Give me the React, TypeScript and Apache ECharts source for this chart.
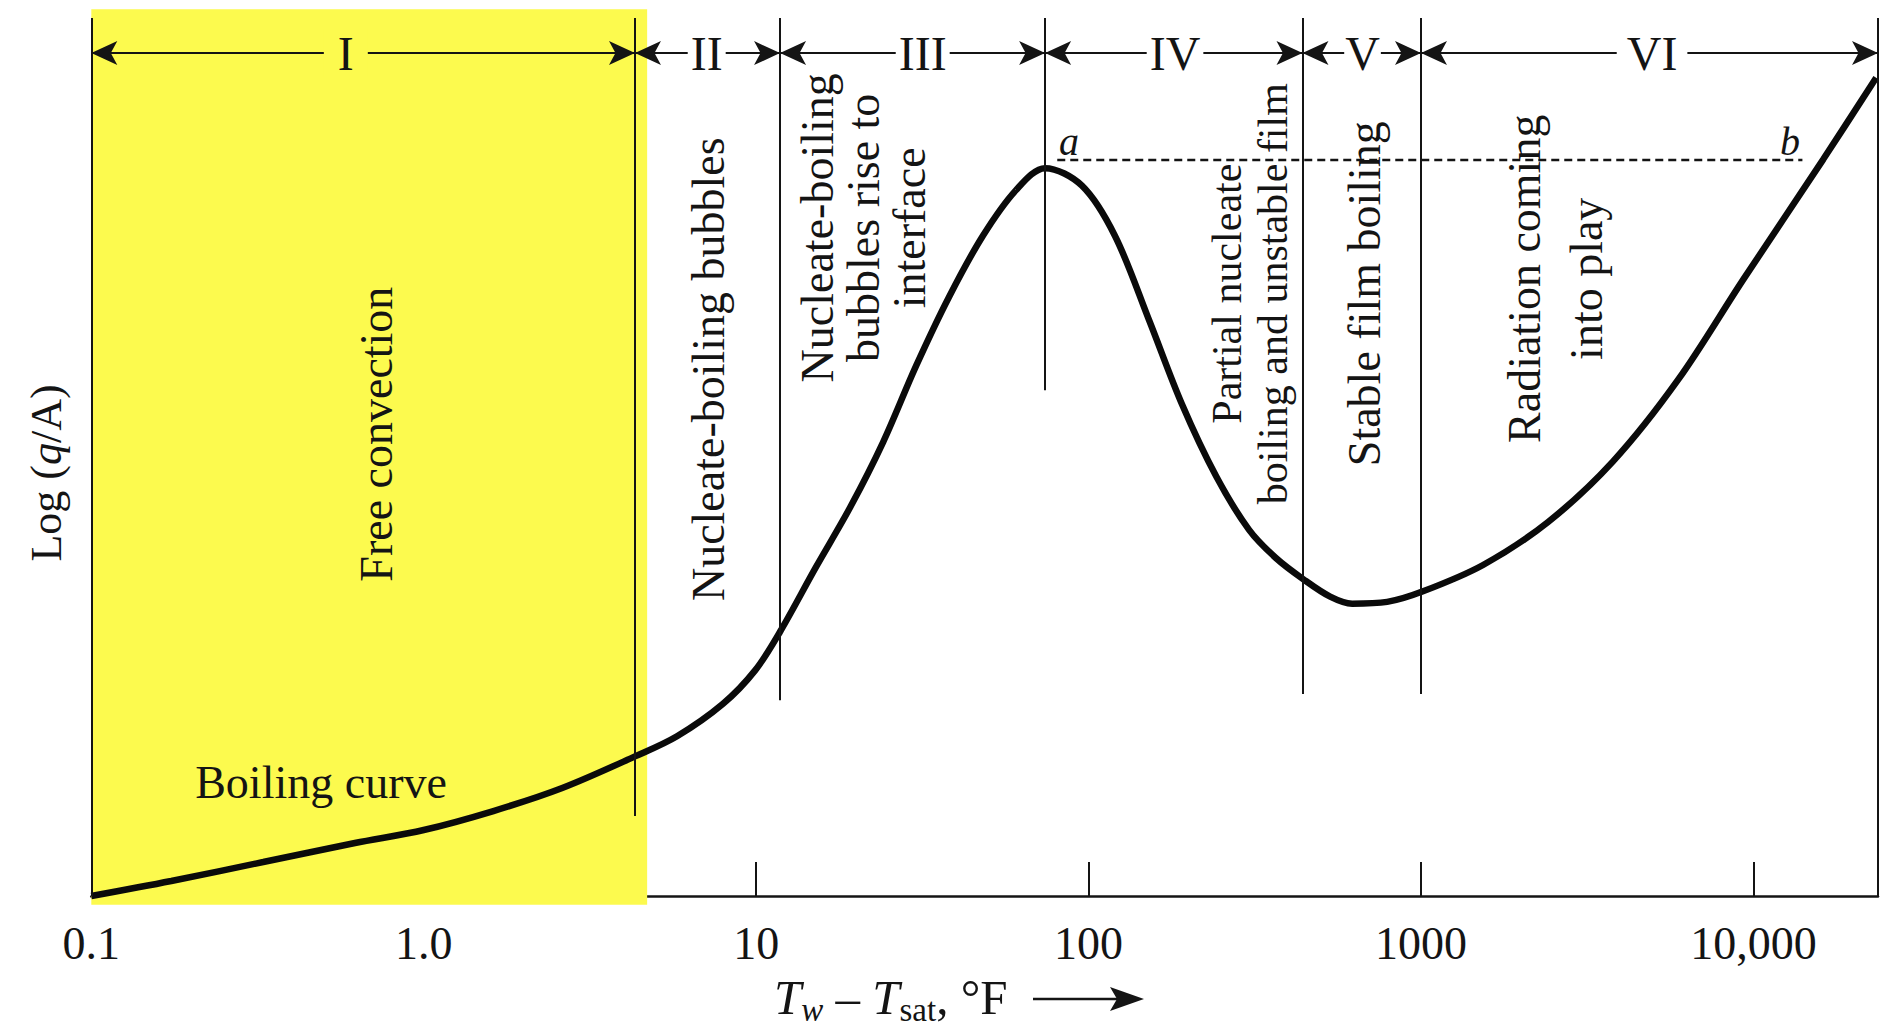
import React, { useEffect, useRef } from 'react';
import * as echarts from 'echarts';

// ---- axis ticks ----
const tickValues = [0.1, 1, 10, 100, 1000, 10000];
const tickLabels = ['0.1', '1.0', '10', '100', '1000', '10,000'];
const X_MIN = 0.1;
const X_MAX = 23700;

// ---- boiling curve (Tw - Tsat in °F, log(q/A) arbitrary units 0..100) ----
const curveT = [0.1, 0.174, 0.329, 0.621, 1.0, 1.62, 2.61, 4.32, 5.78, 7.95, 9.93, 11.8, 15.1, 19.2, 24.1, 30.3, 38.0, 48.1, 60.5, 74.0, 95.5, 120, 152, 191, 242, 304, 366, 442, 533, 621, 791, 1014, 1537, 2412, 3782, 5937, 9316, 16220, 23400];
const curveQ = [0, 1.71, 3.87, 6.04, 7.52, 9.68, 12.3, 15.9, 18.2, 21.9, 25.7, 30.1, 37.4, 44.3, 51.7, 60.4, 68.2, 75.2, 80.4, 82.9, 80.9, 75.2, 65.6, 56.0, 47.8, 41.7, 38.5, 36.1, 34.1, 33.3, 33.5, 34.7, 37.7, 42.6, 49.5, 58.8, 70.2, 83.9, 93.2];

// ---- regions ----
const regionNames = ['I', 'II', 'III', 'IV', 'V', 'VI'];
const regionBounds = [0.1, 4.32, 11.8, 74, 440, 1000, 23700];
const regionLabelT = [0.583, 7.1, 31.7, 182, 667, 4955];
const boundaryBottomQ = [9.1, 22.3, 57.6, 23.0, 23.0];
const TOP_Q = 100;
const ARROW_Q = 96;

// ---- dashed a-b line ----
const dashT = [80.5, 14040];
const dashQ = 83.9;
const pointNames = ['a', 'b'];
const pointT = [87.3, 12880];
const pointQ = [85.9, 85.9];

// ---- annotations ----
const noteTexts = [
  'Free convection',
  'Nucleate-boiling bubbles',
  'Nucleate-boiling\nbubbles rise to\ninterface',
  'Partial nucleate\nboiling and unstable film',
  'Stable film boiling',
  'Radiation coming\ninto play',
];
const noteT = [0.7235, 7.21, 21.0, 306, 675, 2535];
const noteQ = [52.6, 60.0, 76.1, 68.6, 68.6, 70.3];
const curveNameT = 0.491;
const curveNameQ = 12.9;

// ---- highlight ----
const highlightT = [0.1, 4.7];

const FONT = '"Liberation Serif", "Times New Roman", serif';
const INK = '#141414';
const YELLOW = '#fcfa4e';

export default function App() {
  const ref = useRef<HTMLDivElement>(null);
  useEffect(() => {
    const chart = echarts.init(ref.current!, null, { renderer: 'svg' });

    const vLines: any[] = regionBounds.slice(1, -1).map((t, i) => [
      { coord: [t, boundaryBottomQ[i]] },
      { coord: [t, TOP_Q] },
    ]);
    vLines.push([{ coord: [X_MIN, 0] }, { coord: [X_MIN, TOP_Q] }]);
    vLines.push([{ coord: [X_MAX, 0] }, { coord: [X_MAX, TOP_Q] }]);

    const arrows = regionNames.map((_, i) => [
      { coord: [regionBounds[i], ARROW_Q] },
      { coord: [regionBounds[i + 1], ARROW_Q] },
    ]);

    const numeralPad = [14, 3, 3, 3, 1, 10];

    const option: any = {
      animation: false,
      backgroundColor: '#ffffff',
      grid: { left: 91.3, right: 6, top: 9.2, bottom: 129.2, containLabel: false },
      xAxis: {
        type: 'log',
        logBase: 10,
        min: X_MIN,
        max: X_MAX,
        axisLine: { show: true, onZero: true, lineStyle: { color: INK, width: 2.5 } },
        axisTick: { show: true, inside: true, length: 34, lineStyle: { color: INK, width: 2 } },
        splitLine: { show: false },
        axisLabel: {
          show: true,
          margin: 16,
          color: INK,
          fontFamily: FONT,
          fontSize: 46,
          showMaxLabel: false,
          formatter: (v: number) => {
            const lg = Math.log10(v);
            for (let i = 0; i < tickValues.length; i++) {
              if (Math.abs(Math.log10(tickValues[i]) - lg) < 0.01) return tickLabels[i];
            }
            return '';
          },
        },
      },
      yAxis: {
        type: 'value',
        min: -1,
        max: 101,
        axisLine: { show: false },
        axisTick: { show: false },
        axisLabel: { show: false },
        splitLine: { show: false },
      },
      graphic: [
        {
          type: 'text',
          x: 46,
          y: 473,
          rotation: Math.PI / 2,
          style: {
            text: '{n|Log (}{i|q}{n|/A)}',
            align: 'center',
            verticalAlign: 'middle',
            fill: INK,
            rich: {
              n: { fontFamily: FONT, fontSize: 44, fill: INK },
              i: { fontFamily: FONT, fontSize: 44, fontStyle: 'italic', fill: INK },
            },
          },
        },
        {
          type: 'text',
          x: 774,
          y: 997,
          style: {
            text: '{i|T}{si|w}{n| – }{i|T}{s|sat}{n|, °F}',
            align: 'left',
            verticalAlign: 'middle',
            fill: INK,
            rich: {
              n: { fontFamily: FONT, fontSize: 49, fill: INK, lineHeight: 58 },
              i: { fontFamily: FONT, fontSize: 49, fontStyle: 'italic', fill: INK, lineHeight: 58 },
              s: { fontFamily: FONT, fontSize: 33, fill: INK, lineHeight: 30, verticalAlign: 'bottom' },
              si: { fontFamily: FONT, fontSize: 33, fontStyle: 'italic', fill: INK, lineHeight: 30, verticalAlign: 'bottom' },
            },
          },
        },
        {
          type: 'line',
          shape: { x1: 1033, y1: 999, x2: 1118, y2: 999 },
          style: { stroke: INK, lineWidth: 2.5 },
        },
        {
          type: 'polygon',
          shape: { points: [[1144, 999], [1110, 987], [1117, 999], [1110, 1011]] },
          style: { fill: INK },
        },
      ],
      series: [
        {
          type: 'line',
          name: 'highlight',
          data: [],
          z: 1,
          markArea: {
            silent: true,
            itemStyle: { color: YELLOW, opacity: 1 },
            data: [[{ coord: [highlightT[0], -1] }, { coord: [highlightT[1], 101] }]],
          },
        },
        {
          type: 'line',
          name: 'boundaries',
          data: [],
          z: 3,
          markLine: {
            silent: true,
            symbol: ['none', 'none'],
            label: { show: false },
            lineStyle: { color: INK, width: 2, type: 'solid' },
            data: vLines,
          },
        },
        {
          type: 'line',
          name: 'arrows',
          data: [],
          z: 3,
          markLine: {
            silent: true,
            symbol: ['arrow', 'arrow'],
            symbolSize: [18, 26],
            label: { show: false },
            lineStyle: { color: INK, width: 2.2, type: 'solid' },
            data: arrows,
          },
        },
        {
          type: 'line',
          name: 'ab',
          data: [],
          z: 3,
          markLine: {
            silent: true,
            symbol: ['none', 'none'],
            label: { show: false },
            lineStyle: { color: INK, width: 2.3, type: [8, 5] },
            data: [[{ coord: [dashT[0], dashQ] }, { coord: [dashT[1], dashQ] }]],
          },
        },
        {
          type: 'line',
          name: 'Boiling curve',
          data: curveT.map((t, i) => [t, curveQ[i]]),
          smooth: 0.33,
          showSymbol: false,
          symbol: 'none',
          clip: false,
          z: 4,
          lineStyle: { color: '#0a0a0a', width: 6.5 },
        },
        {
          type: 'scatter',
          name: 'numerals',
          z: 10,
          symbolSize: 0,
          itemStyle: { opacity: 1 },
          data: regionNames.map((n, i) => ({
            value: [regionLabelT[i], ARROW_Q],
            label: {
              formatter: n,
              backgroundColor: i === 0 ? YELLOW : '#ffffff',
              padding: [0, numeralPad[i]],
            },
          })),
          label: {
            show: true,
            position: 'inside',
            color: INK,
            fontFamily: FONT,
            fontSize: 48,
            align: 'center',
            verticalAlign: 'middle',
          },
        },
        {
          type: 'scatter',
          name: 'notes',
          z: 10,
          symbolSize: 0,
          itemStyle: { opacity: 1 },
          data: noteTexts.map((txt, i) => ({
            value: [noteT[i], noteQ[i]],
            label: {
              formatter: txt,
              fontSize: i === 3 ? 42 : 46,
              lineHeight: i === 5 ? 62 : 46,
            },
          })),
          label: {
            show: true,
            position: 'inside',
            rotate: 90,
            color: INK,
            fontFamily: FONT,
            align: 'center',
            verticalAlign: 'middle',
          },
        },
        {
          type: 'scatter',
          name: 'labels',
          z: 10,
          symbolSize: 0,
          itemStyle: { opacity: 1 },
          data: [
            { value: [curveNameT, curveNameQ], label: { formatter: 'Boiling curve', fontStyle: 'normal', fontSize: 46 } },
            ...pointNames.map((p, i) => ({
              value: [pointT[i], pointQ[i]],
              label: { formatter: p, fontStyle: 'italic', fontSize: 40 },
            })),
          ],
          label: {
            show: true,
            position: 'inside',
            color: INK,
            fontFamily: FONT,
            align: 'center',
            verticalAlign: 'middle',
          },
        },
      ],
    };
    chart.setOption(option);
    return () => chart.dispose();
  }, []);
  return (
    <div
      ref={ref}
      style={{ position: 'absolute', left: 0, top: 0, width: 1884, height: 1034, background: '#fff' }}
    />
  );
}
